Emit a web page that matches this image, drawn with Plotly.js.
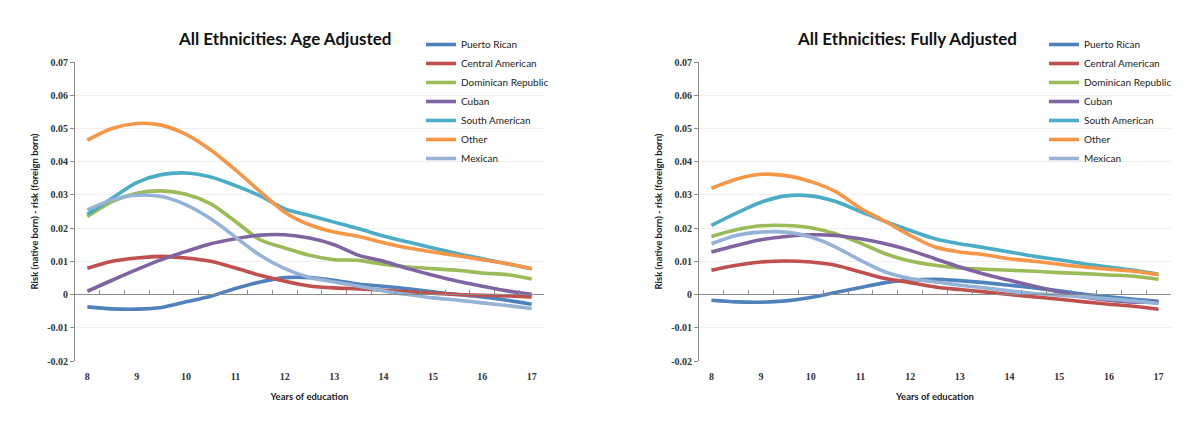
<!DOCTYPE html>
<html>
<head>
<meta charset="utf-8">
<script src="https://cdn.plot.ly/plotly-3.0.1.min.js"></script>
<style>
  html, body { margin: 0; padding: 0; background: #fff; }
  #graph { width: 1200px; height: 436px; }
</style>
</head>
<body>
<div id="graph"></div>
<script>
// Years of education (half-year categories, Excel style)
const years = [8, 8.5, 9, 9.5, 10, 10.5, 11, 11.5, 12, 12.5, 13, 13.5, 14, 14.5, 15, 15.5, 16, 16.5, 17];

const groups = ['Puerto Rican', 'Central American', 'Dominican Republic', 'Cuban', 'South American', 'Other', 'Mexican'];
const colors = ['#4F81BD', '#C0504D', '#9BBB59', '#8064A2', '#4BACC6', '#F79646', '#95B3D7'];

// Age adjusted
const agePuertoRican = [-0.0037, -0.0043, -0.0044, -0.0039, -0.0022, -0.0005, 0.0018, 0.0038, 0.0051, 0.0051, 0.0043, 0.0031, 0.0025, 0.0017, 0.0008, 0.0000, -0.0007, -0.0017, -0.0029];
const ageCentralAmerican = [0.0079, 0.0100, 0.0110, 0.0115, 0.0110, 0.0100, 0.0080, 0.0058, 0.0040, 0.0026, 0.0020, 0.0017, 0.0013, 0.0008, 0.0004, 0.0000, -0.0002, -0.0004, -0.0007];
const ageDominican = [0.0235, 0.0280, 0.0305, 0.0312, 0.0302, 0.0273, 0.0220, 0.0165, 0.0140, 0.0118, 0.0105, 0.0103, 0.0091, 0.0083, 0.0078, 0.0073, 0.0065, 0.0060, 0.0047];
const ageCuban = [0.0010, 0.0043, 0.0075, 0.0105, 0.0130, 0.0153, 0.0168, 0.0179, 0.0180, 0.0170, 0.0150, 0.0118, 0.0100, 0.0078, 0.0058, 0.0040, 0.0025, 0.0011, 0.0001];
const ageSouthAmerican = [0.0242, 0.0290, 0.0337, 0.0361, 0.0366, 0.0354, 0.0328, 0.0297, 0.0258, 0.0238, 0.0218, 0.0198, 0.0176, 0.0158, 0.0140, 0.0123, 0.0108, 0.0093, 0.0078];
const ageOther = [0.0465, 0.0500, 0.0515, 0.0510, 0.0482, 0.0435, 0.0375, 0.0310, 0.0248, 0.0210, 0.0188, 0.0175, 0.0156, 0.0140, 0.0128, 0.0117, 0.0105, 0.0093, 0.0078];
const ageMexican = [0.0255, 0.0285, 0.0299, 0.0295, 0.0270, 0.0228, 0.0173, 0.0118, 0.0078, 0.0051, 0.0038, 0.0025, 0.0011, 0.0000, -0.0010, -0.0017, -0.0025, -0.0033, -0.0042];

// Fully adjusted
const fullPuertoRican = [-0.0017, -0.0022, -0.0023, -0.0019, -0.0009, 0.0006, 0.0021, 0.0036, 0.0043, 0.0046, 0.0042, 0.0036, 0.0028, 0.0020, 0.0011, 0.0001, -0.0007, -0.0014, -0.0020];
const fullCentralAmerican = [0.0073, 0.0088, 0.0098, 0.0101, 0.0098, 0.0088, 0.0068, 0.0048, 0.0036, 0.0023, 0.0015, 0.0008, 0.0000, -0.0007, -0.0014, -0.0022, -0.0029, -0.0035, -0.0044];
const fullDominican = [0.0175, 0.0195, 0.0207, 0.0208, 0.0201, 0.0183, 0.0155, 0.0123, 0.0101, 0.0088, 0.0080, 0.0076, 0.0073, 0.0070, 0.0066, 0.0063, 0.0059, 0.0055, 0.0046];
const fullCuban = [0.0128, 0.0148, 0.0165, 0.0175, 0.0180, 0.0178, 0.0168, 0.0153, 0.0133, 0.0108, 0.0083, 0.0061, 0.0043, 0.0025, 0.0008, -0.0007, -0.0017, -0.0023, -0.0022];
const fullSouthAmerican = [0.0208, 0.0245, 0.0278, 0.0297, 0.0297, 0.0280, 0.0250, 0.0220, 0.0193, 0.0168, 0.0153, 0.0141, 0.0128, 0.0115, 0.0105, 0.0093, 0.0083, 0.0073, 0.0061];
const fullOther = [0.0320, 0.0347, 0.0362, 0.0358, 0.0340, 0.0310, 0.0260, 0.0220, 0.0178, 0.0143, 0.0128, 0.0120, 0.0108, 0.0100, 0.0091, 0.0083, 0.0076, 0.0070, 0.0060];
const fullMexican = [0.0153, 0.0178, 0.0188, 0.0188, 0.0173, 0.0143, 0.0103, 0.0068, 0.0048, 0.0038, 0.0028, 0.0020, 0.0011, 0.0003, -0.0002, -0.0007, -0.0013, -0.0019, -0.0027];

const yTickVals = [-0.02, -0.01, 0, 0.01, 0.02, 0.03, 0.04, 0.05, 0.06, 0.07];
const yTickText = ['-0.02', '-0.01', '0', '0.01', '0.02', '0.03', '0.04', '0.05', '0.06', '0.07'];
const xTickVals = [8, 9, 10, 11, 12, 13, 14, 15, 16, 17];

const ageSeries = [agePuertoRican, ageCentralAmerican, ageDominican, ageCuban, ageSouthAmerican, ageOther, ageMexican];
const fullSeries = [fullPuertoRican, fullCentralAmerican, fullDominican, fullCuban, fullSouthAmerican, fullOther, fullMexican];

const sansFont = 'Lato, "DejaVu Sans", sans-serif';
const serifFont = '"Liberation Serif", "DejaVu Serif", serif';

function makeTraces(series, xa, ya, legendId) {
    return series.map((vals, i) => ({
        x: years,
        y: vals,
        xaxis: xa,
        yaxis: ya,
        legend: legendId,
        type: 'scatter',
        mode: 'lines',
        name: groups[i],
        line: { color: colors[i], width: 3.6, shape: 'spline', smoothing: 0.8 }
    }));
}

const traces = [
    ...makeTraces(ageSeries, 'x', 'y', 'legend'),
    ...makeTraces(fullSeries, 'x2', 'y2', 'legend2'),
    // empty traces so the zero-line category axes get drawn
    { x: [], y: [], xaxis: 'x3', yaxis: 'y', showlegend: false, hoverinfo: 'skip' },
    { x: [], y: [], xaxis: 'x4', yaxis: 'y2', showlegend: false, hoverinfo: 'skip' }
];

const H = 436, W = 1200;
const yDomain = [1 - 361 / H, 1 - 62 / H];
const zeroPos = 1 - 294.3 / H;

function xLabels(domain) {
    return {
        domain: domain,
        range: [7.75, 17.25],
        tickvals: xTickVals,
        showline: false, showgrid: false, zeroline: false,
        ticks: '',
        ticklabelstandoff: 8,
        tickfont: { family: serifFont, size: 10, color: '#333', weight: 'bold' },
        title: { text: 'Years of education', font: { family: sansFont, size: 9.5, color: '#222', weight: 'bold' }, standoff: 12 }
    };
}

function xZero(over) {
    return {
        overlaying: over,
        anchor: 'free',
        position: zeroPos,
        range: [7.75, 17.25],
        tick0: 7.75, dtick: 0.5,
        ticks: 'inside', ticklen: 4, tickcolor: '#8a8a8a',
        showticklabels: false,
        showline: true, linecolor: '#8a8a8a', linewidth: 1,
        showgrid: false, zeroline: false
    };
}

function yAxis() {
    return {
        domain: yDomain,
        range: [-0.02, 0.07],
        tickvals: yTickVals,
        ticktext: yTickText,
        showline: true, linecolor: '#8a8a8a', linewidth: 1,
        ticks: 'outside', ticklen: 4, tickcolor: '#8a8a8a',
        showgrid: true, gridcolor: '#efefef',
        zeroline: false,
        tickfont: { family: serifFont, size: 10, color: '#333', weight: 'bold' },
        title: { text: 'Risk (native born) - risk (foreign born)', font: { family: sansFont, size: 9.5, color: '#222', weight: 'bold' }, standoff: 6 }
    };
}

function legendAt(x) {
    return {
        x: x / W, xanchor: 'left',
        y: 1 - 30 / H, yanchor: 'top',
        bgcolor: 'rgba(0,0,0,0)',
        font: { family: sansFont, size: 10, color: '#222' },
        tracegroupgap: 0,
        itemwidth: 30
    };
}

function panelTitle(text, cx) {
    return {
        text: text, x: cx / W, y: 1 - 39 / H, xref: 'paper', yref: 'paper',
        xanchor: 'center', yanchor: 'middle', showarrow: false,
        font: { family: sansFont, size: 17, color: '#111', weight: 'bold' }
    };
}

const layout = {
    width: W,
    height: H,
    margin: { l: 0, r: 0, t: 0, b: 0 },
    paper_bgcolor: '#fff',
    plot_bgcolor: '#fff',
    showlegend: true,
    xaxis: xLabels([75 / W, 544 / W]),
    xaxis2: Object.assign(xLabels([699 / W, 1171 / W]), { anchor: 'y2' }),
    xaxis3: xZero('x'),
    xaxis4: xZero('x2'),
    yaxis: yAxis(),
    yaxis2: Object.assign(yAxis(), { anchor: 'x2' }),
    legend: legendAt(421),
    legend2: legendAt(1044),
    annotations: [
        panelTitle('All Ethnicities: Age Adjusted', 284),
        panelTitle('All Ethnicities: Fully Adjusted', 907)
    ]
};

Plotly.newPlot('graph', traces, layout, { staticPlot: true });
</script>
</body>
</html>
